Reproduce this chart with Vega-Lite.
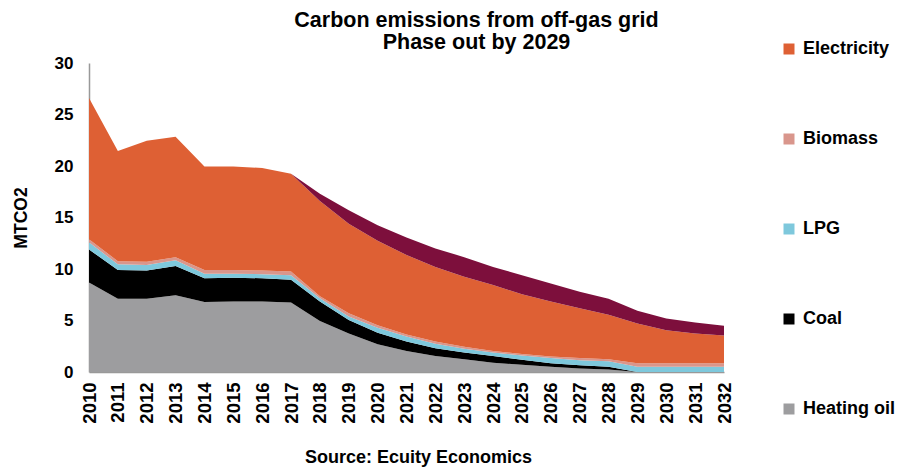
{
  "$schema": "https://vega.github.io/schema/vega-lite/v6.json",
  "autosize": {"type": "none"},
  "width": 635,
  "height": 309,
  "padding": {"left": 89, "top": 63, "right": 174, "bottom": 98},
  "background": "white",
  "config": {
    "font": "Liberation Sans",
    "view": {"stroke": null}
  },
  "title": {
    "text": ["Carbon emissions from off-gas grid", "Phase out by 2029"],
    "fontSize": 21.5,
    "fontWeight": "bold",
    "color": "black",
    "lineHeight": 22,
    "anchor": "middle",
    "dx": 70,
    "offset": -13
  },
  "data": {
    "values": [
      {"year": 2010, "Heating oil": 8.7, "Coal": 3.2, "LPG": 0.7, "Biomass": 0.3, "Electricity": 13.7, "Other": 0},
      {"year": 2011, "Heating oil": 7.1, "Coal": 2.8, "LPG": 0.55, "Biomass": 0.3, "Electricity": 10.7, "Other": 0},
      {"year": 2012, "Heating oil": 7.1, "Coal": 2.75, "LPG": 0.55, "Biomass": 0.3, "Electricity": 11.75, "Other": 0},
      {"year": 2013, "Heating oil": 7.45, "Coal": 2.85, "LPG": 0.55, "Biomass": 0.3, "Electricity": 11.7, "Other": 0},
      {"year": 2014, "Heating oil": 6.8, "Coal": 2.3, "LPG": 0.45, "Biomass": 0.35, "Electricity": 10.05, "Other": 0},
      {"year": 2015, "Heating oil": 6.85, "Coal": 2.3, "LPG": 0.4, "Biomass": 0.35, "Electricity": 10.05, "Other": 0},
      {"year": 2016, "Heating oil": 6.85, "Coal": 2.25, "LPG": 0.4, "Biomass": 0.35, "Electricity": 9.95, "Other": 0},
      {"year": 2017, "Heating oil": 6.75, "Coal": 2.2, "LPG": 0.45, "Biomass": 0.35, "Electricity": 9.5, "Other": 0},
      {"year": 2018, "Heating oil": 4.95, "Coal": 1.9, "LPG": 0.3, "Biomass": 0.2, "Electricity": 9.25, "Other": 0.7},
      {"year": 2019, "Heating oil": 3.75, "Coal": 1.3, "LPG": 0.35, "Biomass": 0.3, "Electricity": 8.7, "Other": 1.3},
      {"year": 2020, "Heating oil": 2.7, "Coal": 1.1, "LPG": 0.5, "Biomass": 0.25, "Electricity": 8.2, "Other": 1.5},
      {"year": 2021, "Heating oil": 2.05, "Coal": 0.9, "LPG": 0.5, "Biomass": 0.2, "Electricity": 7.7, "Other": 1.7},
      {"year": 2022, "Heating oil": 1.55, "Coal": 0.75, "LPG": 0.45, "Biomass": 0.2, "Electricity": 7.25, "Other": 1.8},
      {"year": 2023, "Heating oil": 1.25, "Coal": 0.65, "LPG": 0.35, "Biomass": 0.2, "Electricity": 6.8, "Other": 1.9},
      {"year": 2024, "Heating oil": 0.9, "Coal": 0.65, "LPG": 0.35, "Biomass": 0.15, "Electricity": 6.4, "Other": 1.75},
      {"year": 2025, "Heating oil": 0.7, "Coal": 0.5, "LPG": 0.4, "Biomass": 0.15, "Electricity": 5.8, "Other": 1.85},
      {"year": 2026, "Heating oil": 0.5, "Coal": 0.35, "LPG": 0.5, "Biomass": 0.15, "Electricity": 5.35, "Other": 1.75},
      {"year": 2027, "Heating oil": 0.35, "Coal": 0.3, "LPG": 0.5, "Biomass": 0.2, "Electricity": 4.85, "Other": 1.6},
      {"year": 2028, "Heating oil": 0.25, "Coal": 0.25, "LPG": 0.55, "Biomass": 0.2, "Electricity": 4.3, "Other": 1.55},
      {"year": 2029, "Heating oil": 0, "Coal": 0, "LPG": 0.5, "Biomass": 0.35, "Electricity": 3.85, "Other": 1.25},
      {"year": 2030, "Heating oil": 0, "Coal": 0, "LPG": 0.5, "Biomass": 0.35, "Electricity": 3.2, "Other": 1.15},
      {"year": 2031, "Heating oil": 0, "Coal": 0, "LPG": 0.5, "Biomass": 0.35, "Electricity": 2.9, "Other": 1.05},
      {"year": 2032, "Heating oil": 0, "Coal": 0, "LPG": 0.5, "Biomass": 0.35, "Electricity": 2.7, "Other": 0.95}
    ]
  },
  "transform": [
    {"fold": ["Heating oil", "Coal", "LPG", "Biomass", "Electricity", "Other"], "as": ["fuel", "value"]},
    {"calculate": "indexof(['Heating oil', 'Coal', 'LPG', 'Biomass', 'Electricity', 'Other'], datum.fuel)", "as": "stackRank"}
  ],
  "mark": {"type": "area", "interpolate": "linear"},
  "encoding": {
    "x": {
      "field": "year",
      "type": "quantitative",
      "scale": {"domain": [2010, 2032], "nice": false, "zero": false},
      "axis": {
        "values": [2010, 2011, 2012, 2013, 2014, 2015, 2016, 2017, 2018, 2019, 2020, 2021, 2022, 2023, 2024, 2025, 2026, 2027, 2028, 2029, 2030, 2031, 2032],
        "format": "d",
        "labelAngle": -90,
        "labelFontSize": 18.5,
        "labelFontWeight": "bold",
        "labelColor": "black",
        "labelPadding": 10,
        "labelFlush": false,
        "labelOverlap": false,
        "ticks": false,
        "grid": false,
        "domainColor": "#999999",
        "domainWidth": 1.5,
        "title": "Source: Ecuity Economics",
        "titleFontSize": 18,
        "titleFontWeight": "bold",
        "titleColor": "black",
        "titlePadding": 25,
        "titleX": 329
      }
    },
    "y": {
      "field": "value",
      "type": "quantitative",
      "stack": "zero",
      "scale": {"domain": [0, 30], "nice": false},
      "axis": {
        "values": [0, 5, 10, 15, 20, 25, 30],
        "labelFontSize": 17,
        "labelFontWeight": "bold",
        "labelColor": "black",
        "labelPadding": 16,
        "ticks": false,
        "grid": false,
        "domainColor": "#999999",
        "domainWidth": 1.5,
        "title": "MTCO2",
        "titleFontSize": 17.5,
        "titleFontWeight": "bold",
        "titleColor": "black",
        "titlePadding": 24
      }
    },
    "color": {
      "field": "fuel",
      "type": "nominal",
      "scale": {
        "domain": ["Electricity", "Biomass", "LPG", "Coal", "Heating oil", "Other"],
        "range": ["#DE6034", "#D9968C", "#7EC8DC", "#000000", "#9D9D9F", "#7D0F3C"]
      },
      "legend": {
        "values": ["Electricity", "Biomass", "LPG", "Coal", "Heating oil"],
        "title": null,
        "orient": "none",
        "legendX": 691,
        "legendY": -23,
        "symbolType": "square",
        "symbolSize": 121,
        "symbolStrokeWidth": 0,
        "labelFontSize": 18,
        "labelFontWeight": "bold",
        "labelColor": "black",
        "labelOffset": 5,
        "rowPadding": 72
      }
    },
    "order": {"field": "stackRank", "type": "quantitative", "sort": "ascending"}
  }
}
